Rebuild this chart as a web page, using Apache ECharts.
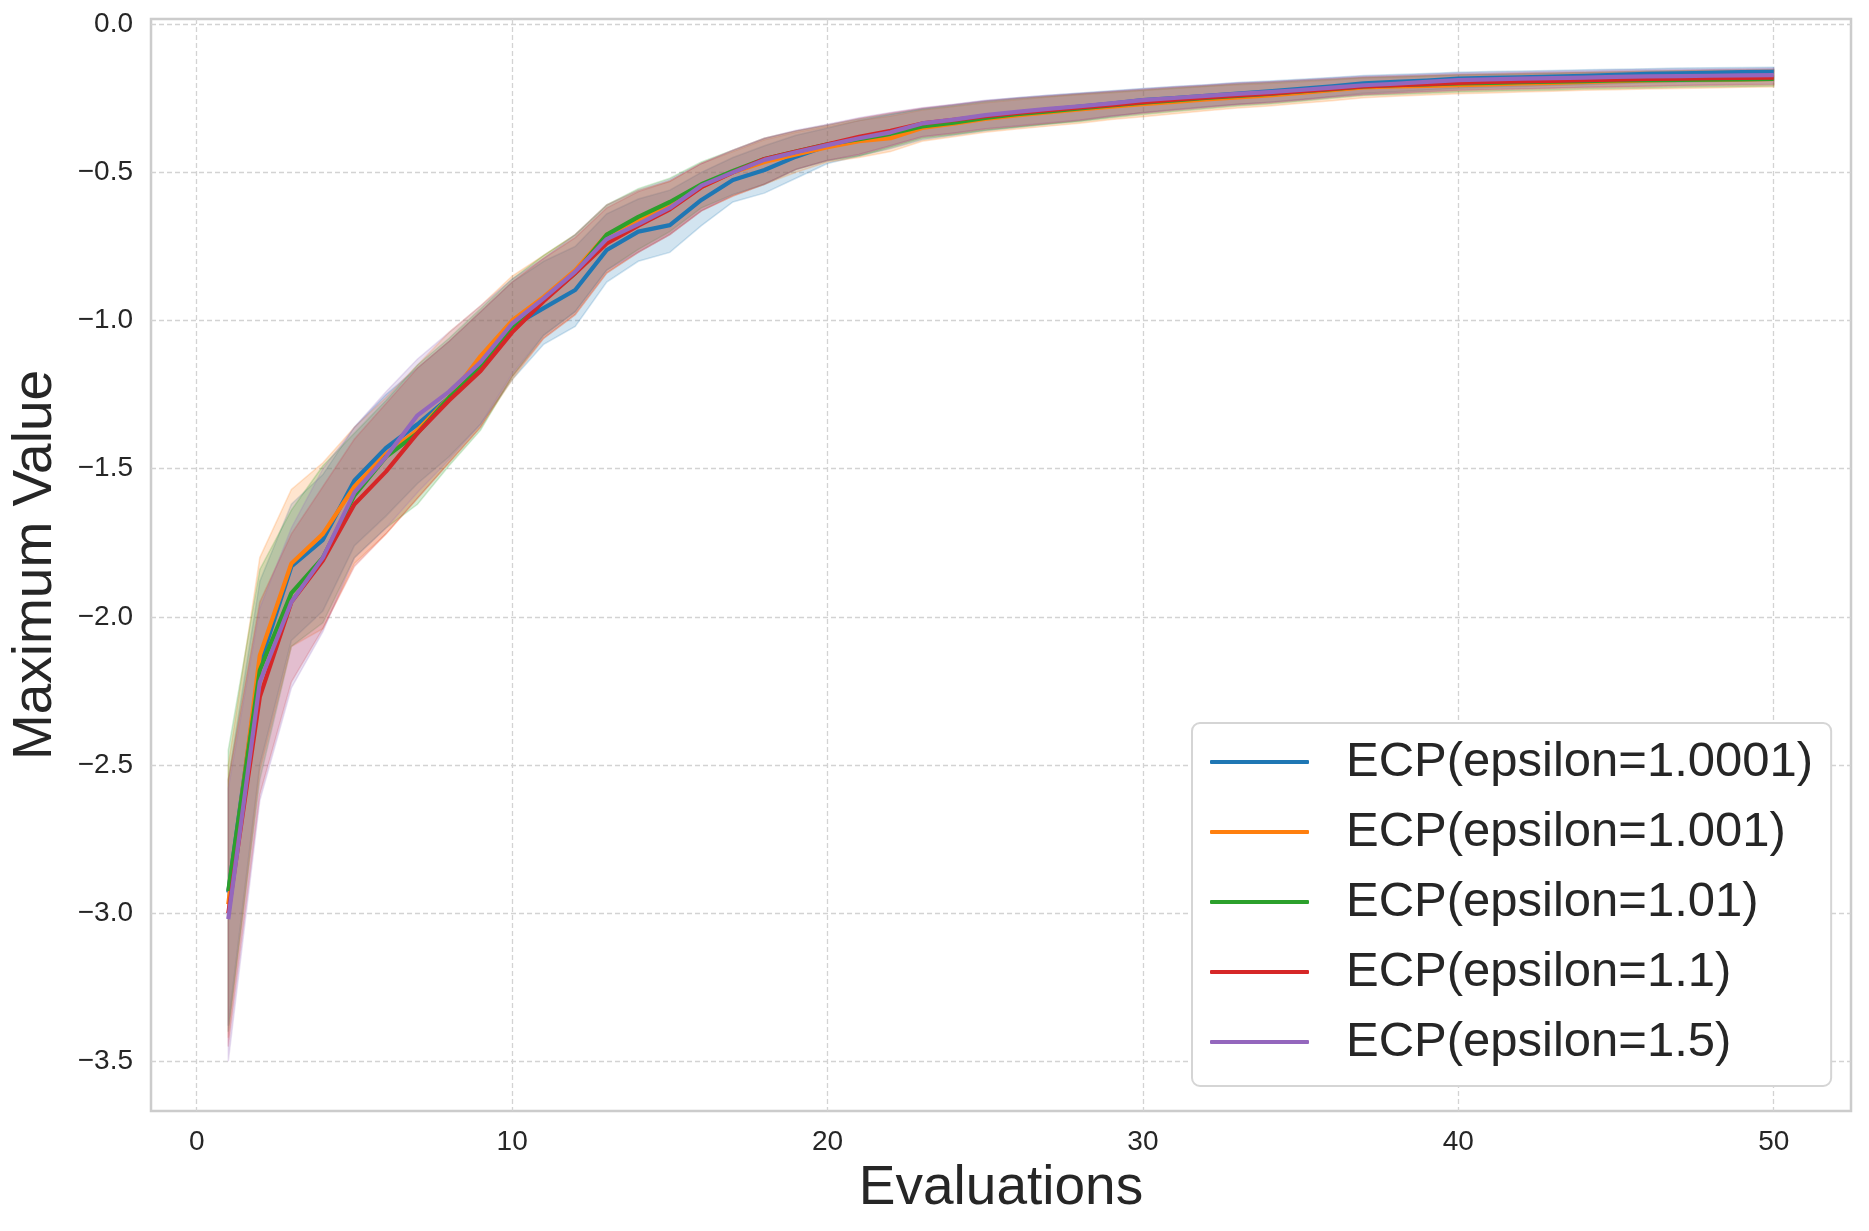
<!DOCTYPE html>
<html>
<head>
<meta charset="utf-8">
<script src="https://cdn.jsdelivr.net/npm/echarts@6/dist/echarts.min.js"></script>
<style>
html,body{margin:0;padding:0;background:#fff;}
#chart{width:1869px;height:1231px;}
</style>
</head>
<body>
<div id="chart"></div>
<script>
const evaluations = Array.from({length:50},(_,i)=>i+1);
const seriesNames = ["ECP(epsilon=1.0001)","ECP(epsilon=1.001)","ECP(epsilon=1.01)","ECP(epsilon=1.1)","ECP(epsilon=1.5)"];
const colors = ["#1f77b4","#ff7f0e","#2ca02c","#d62728","#9467bd"];
const xTickValues = [0,10,20,30,40,50];
const xTickLabels = ["0","10","20","30","40","50"];
const yTickValues = [0,-0.5,-1,-1.5,-2,-2.5,-3,-3.5];
const yTickLabels = ["0.0","\u22120.5","\u22121.0","\u22121.5","\u22122.0","\u22122.5","\u22123.0","\u22123.5"];

const meanE10001 = [-2.93,-2.16,-1.83,-1.74,-1.54,-1.43,-1.35,-1.26,-1.15,-1.02,-0.958,-0.897,-0.762,-0.70,-0.678,-0.593,-0.526,-0.492,-0.447,-0.41,-0.386,-0.366,-0.34,-0.327,-0.31,-0.298,-0.288,-0.278,-0.268,-0.256,-0.249,-0.242,-0.234,-0.227,-0.218,-0.21,-0.2,-0.195,-0.19,-0.184,-0.181,-0.179,-0.177,-0.174,-0.171,-0.168,-0.166,-0.164,-0.162,-0.161];
const upperE10001 = [-2.55,-1.88,-1.62,-1.52,-1.36,-1.25,-1.16,-1.07,-0.97,-0.87,-0.80,-0.75,-0.64,-0.59,-0.56,-0.50,-0.45,-0.41,-0.375,-0.35,-0.325,-0.305,-0.285,-0.272,-0.258,-0.248,-0.24,-0.232,-0.225,-0.217,-0.21,-0.204,-0.197,-0.192,-0.186,-0.18,-0.173,-0.17,-0.166,-0.162,-0.16,-0.158,-0.156,-0.154,-0.152,-0.15,-0.148,-0.147,-0.146,-0.145];
const lowerE10001 = [-3.38,-2.50,-2.08,-1.98,-1.76,-1.66,-1.55,-1.46,-1.35,-1.20,-1.08,-1.02,-0.87,-0.80,-0.77,-0.68,-0.60,-0.57,-0.52,-0.47,-0.445,-0.42,-0.39,-0.375,-0.36,-0.348,-0.337,-0.326,-0.312,-0.298,-0.288,-0.279,-0.27,-0.263,-0.254,-0.244,-0.233,-0.228,-0.222,-0.216,-0.213,-0.21,-0.207,-0.204,-0.201,-0.198,-0.196,-0.194,-0.192,-0.19];

const meanE1001 = [-2.97,-2.13,-1.82,-1.72,-1.56,-1.45,-1.37,-1.26,-1.12,-1.00,-0.92,-0.83,-0.71,-0.66,-0.615,-0.55,-0.50,-0.465,-0.44,-0.415,-0.395,-0.385,-0.35,-0.336,-0.32,-0.308,-0.298,-0.288,-0.278,-0.27,-0.262,-0.254,-0.247,-0.24,-0.232,-0.223,-0.213,-0.21,-0.208,-0.206,-0.203,-0.2,-0.198,-0.195,-0.192,-0.19,-0.188,-0.187,-0.186,-0.185];
const upperE1001 = [-2.5,-1.80,-1.57,-1.48,-1.36,-1.26,-1.15,-1.04,-0.95,-0.85,-0.78,-0.71,-0.61,-0.56,-0.53,-0.47,-0.43,-0.39,-0.365,-0.345,-0.325,-0.31,-0.29,-0.278,-0.265,-0.255,-0.246,-0.238,-0.231,-0.224,-0.217,-0.21,-0.204,-0.2,-0.194,-0.188,-0.182,-0.179,-0.176,-0.173,-0.171,-0.169,-0.167,-0.165,-0.163,-0.161,-0.159,-0.158,-0.157,-0.156];
const lowerE1001 = [-3.42,-2.52,-2.10,-2.04,-1.82,-1.72,-1.60,-1.48,-1.36,-1.20,-1.06,-0.98,-0.84,-0.77,-0.71,-0.63,-0.58,-0.54,-0.50,-0.465,-0.45,-0.43,-0.395,-0.38,-0.365,-0.354,-0.344,-0.334,-0.322,-0.312,-0.302,-0.292,-0.283,-0.276,-0.267,-0.258,-0.248,-0.243,-0.239,-0.235,-0.232,-0.229,-0.226,-0.223,-0.221,-0.219,-0.217,-0.215,-0.213,-0.212];

const meanE101 = [-2.925,-2.18,-1.92,-1.80,-1.59,-1.46,-1.38,-1.26,-1.16,-1.02,-0.93,-0.84,-0.71,-0.65,-0.60,-0.54,-0.495,-0.455,-0.43,-0.405,-0.388,-0.37,-0.345,-0.332,-0.316,-0.304,-0.294,-0.284,-0.274,-0.265,-0.257,-0.249,-0.242,-0.235,-0.227,-0.219,-0.21,-0.206,-0.203,-0.2,-0.198,-0.196,-0.194,-0.192,-0.19,-0.189,-0.188,-0.187,-0.186,-0.185];
const upperE101 = [-2.45,-1.84,-1.64,-1.49,-1.38,-1.27,-1.15,-1.06,-0.96,-0.86,-0.78,-0.71,-0.61,-0.555,-0.52,-0.465,-0.425,-0.385,-0.36,-0.34,-0.32,-0.303,-0.287,-0.275,-0.262,-0.252,-0.244,-0.236,-0.229,-0.222,-0.215,-0.209,-0.202,-0.197,-0.191,-0.186,-0.18,-0.177,-0.174,-0.171,-0.169,-0.167,-0.165,-0.163,-0.161,-0.159,-0.157,-0.156,-0.155,-0.154];
const lowerE101 = [-3.40,-2.55,-2.10,-2.02,-1.80,-1.70,-1.62,-1.49,-1.37,-1.19,-1.05,-0.97,-0.83,-0.76,-0.70,-0.62,-0.575,-0.54,-0.49,-0.46,-0.445,-0.415,-0.385,-0.372,-0.358,-0.348,-0.338,-0.328,-0.316,-0.305,-0.295,-0.285,-0.276,-0.269,-0.26,-0.25,-0.241,-0.237,-0.233,-0.229,-0.226,-0.224,-0.222,-0.219,-0.217,-0.215,-0.213,-0.211,-0.21,-0.209];

const meanE11 = [-3.0,-2.27,-1.95,-1.81,-1.62,-1.51,-1.38,-1.27,-1.17,-1.04,-0.935,-0.84,-0.74,-0.68,-0.625,-0.55,-0.50,-0.455,-0.43,-0.405,-0.38,-0.36,-0.335,-0.323,-0.31,-0.299,-0.29,-0.281,-0.272,-0.263,-0.255,-0.247,-0.24,-0.234,-0.226,-0.218,-0.21,-0.206,-0.202,-0.198,-0.195,-0.193,-0.191,-0.189,-0.187,-0.185,-0.184,-0.182,-0.181,-0.18];
const upperE11 = [-2.55,-1.95,-1.72,-1.56,-1.40,-1.28,-1.16,-1.07,-0.97,-0.87,-0.79,-0.72,-0.62,-0.565,-0.53,-0.47,-0.425,-0.385,-0.36,-0.34,-0.318,-0.3,-0.284,-0.272,-0.259,-0.25,-0.242,-0.235,-0.227,-0.22,-0.213,-0.207,-0.2,-0.195,-0.189,-0.184,-0.178,-0.175,-0.172,-0.169,-0.167,-0.165,-0.163,-0.161,-0.159,-0.157,-0.156,-0.154,-0.153,-0.152];
const lowerE11 = [-3.45,-2.60,-2.22,-2.04,-1.83,-1.72,-1.60,-1.48,-1.36,-1.19,-1.06,-0.98,-0.84,-0.77,-0.71,-0.63,-0.58,-0.54,-0.49,-0.46,-0.44,-0.41,-0.38,-0.368,-0.354,-0.344,-0.334,-0.324,-0.31,-0.3,-0.29,-0.28,-0.271,-0.265,-0.256,-0.246,-0.237,-0.233,-0.228,-0.224,-0.221,-0.219,-0.216,-0.214,-0.212,-0.21,-0.208,-0.206,-0.205,-0.204];

const meanE15 = [-3.02,-2.22,-1.95,-1.80,-1.58,-1.46,-1.32,-1.24,-1.14,-1.01,-0.925,-0.835,-0.725,-0.675,-0.62,-0.545,-0.50,-0.458,-0.432,-0.408,-0.385,-0.365,-0.335,-0.322,-0.307,-0.296,-0.286,-0.277,-0.267,-0.256,-0.249,-0.242,-0.235,-0.229,-0.222,-0.214,-0.206,-0.201,-0.195,-0.189,-0.186,-0.184,-0.182,-0.18,-0.178,-0.176,-0.175,-0.174,-0.173,-0.172];
const upperE15 = [-2.58,-1.97,-1.70,-1.50,-1.36,-1.24,-1.13,-1.04,-0.95,-0.86,-0.79,-0.71,-0.61,-0.56,-0.525,-0.47,-0.425,-0.385,-0.358,-0.338,-0.316,-0.298,-0.282,-0.27,-0.257,-0.248,-0.24,-0.233,-0.226,-0.218,-0.211,-0.205,-0.198,-0.194,-0.188,-0.182,-0.176,-0.173,-0.169,-0.165,-0.163,-0.161,-0.159,-0.157,-0.155,-0.153,-0.152,-0.151,-0.15,-0.149];
const lowerE15 = [-3.50,-2.62,-2.24,-2.05,-1.80,-1.70,-1.58,-1.47,-1.35,-1.18,-1.05,-0.97,-0.83,-0.77,-0.71,-0.63,-0.575,-0.54,-0.49,-0.46,-0.44,-0.41,-0.38,-0.367,-0.353,-0.343,-0.333,-0.323,-0.31,-0.3,-0.29,-0.28,-0.271,-0.264,-0.256,-0.246,-0.237,-0.232,-0.227,-0.222,-0.219,-0.217,-0.215,-0.212,-0.21,-0.208,-0.206,-0.204,-0.203,-0.202];

const means = [meanE10001, meanE1001, meanE101, meanE11, meanE15];
const uppers = [upperE10001, upperE1001, upperE101, upperE11, upperE15];
const lowers = [lowerE10001, lowerE1001, lowerE101, lowerE11, lowerE15];

function rgba(hex, a){
  const r=parseInt(hex.slice(1,3),16), g=parseInt(hex.slice(3,5),16), b=parseInt(hex.slice(5,7),16);
  return 'rgba('+r+','+g+','+b+','+a+')';
}

const FONT = '"Liberation Sans", Arial, sans-serif';
const series = [];
seriesNames.forEach((name, k) => {
  const lo = lowers[k], up = uppers[k];
  series.push({
    type: 'custom',
    name: name + ' band',
    silent: true,
    z: 1,
    data: evaluations.map((x, i) => [x, lo[i], up[i]]),
    encode: {x: 0, y: [1, 2]},
    renderItem: function(params, api){
      if (params.dataIndex !== 0) return null;
      const pts = [];
      for (let i = 0; i < evaluations.length; i++) pts.push(api.coord([evaluations[i], up[i]]));
      for (let i = evaluations.length - 1; i >= 0; i--) pts.push(api.coord([evaluations[i], lo[i]]));
      return {
        type: 'polygon',
        shape: {points: pts},
        style: {fill: rgba(colors[k], 0.2), stroke: rgba(colors[k], 0.2), lineWidth: 1.5}
      };
    }
  });
});
seriesNames.forEach((name, k) => {
  series.push({
    type: 'line',
    name: name,
    z: 3 + k,
    data: evaluations.map((x, i) => [x, means[k][i]]),
    showSymbol: false,
    symbol: 'none',
    lineStyle: {color: colors[k], width: 4.2, join: 'round'},
    itemStyle: {color: colors[k]},
    emphasis: {disabled: true}
  });
});

const chart = echarts.init(document.getElementById('chart'), null, {renderer: 'canvas'});
chart.setOption({
  animation: false,
  backgroundColor: '#ffffff',
  grid: {left: 151, right: 18, top: 19, bottom: 120, show: true, borderColor: '#cccccc', borderWidth: 2.5, backgroundColor: 'transparent'},
  xAxis: {
    type: 'value', min: -1.45, max: 52.45,
    name: 'Evaluations', nameLocation: 'middle', nameGap: 50,
    nameTextStyle: {fontFamily: FONT, fontSize: 55, color: '#262626'},
    axisLine: {show: false},
    axisTick: {show: false, customValues: xTickValues},
    axisLabel: {customValues: xTickValues, fontFamily: FONT, fontSize: 28, color: '#262626', margin: 17,
      formatter: v => xTickLabels[xTickValues.indexOf(v)]},
    splitLine: {show: true, lineStyle: {color: '#d3d3d3', width: 1.3, type: [5, 3]}}
  },
  yAxis: {
    type: 'value', min: -3.6675, max: 0.0175,
    name: 'Maximum Value', nameLocation: 'middle', nameGap: 88, nameRotate: 90,
    nameTextStyle: {fontFamily: FONT, fontSize: 55, color: '#262626'},
    axisLine: {show: false},
    axisTick: {show: false, customValues: yTickValues},
    axisLabel: {customValues: yTickValues, fontFamily: FONT, fontSize: 28, color: '#262626', margin: 18,
      formatter: v => yTickLabels[yTickValues.indexOf(v)]},
    splitLine: {show: true, lineStyle: {color: '#d3d3d3', width: 1.3, type: [5, 3]}}
  },
  legend: {
    data: seriesNames,
    orient: 'vertical',
    left: 1192, top: 723,
    padding: [9, 18, 14, 18],
    itemGap: 10,
    itemWidth: 99, itemHeight: 4,
    icon: 'roundRect',
    backgroundColor: '#ffffff',
    borderColor: '#d5d5d5', borderWidth: 2, borderRadius: 8,
    textStyle: {fontFamily: FONT, fontSize: 49, color: '#262626', lineHeight: 60, padding: [0, 0, 0, 32]},
    selectedMode: false
  },
  series: series
});
</script>
</body>
</html>
